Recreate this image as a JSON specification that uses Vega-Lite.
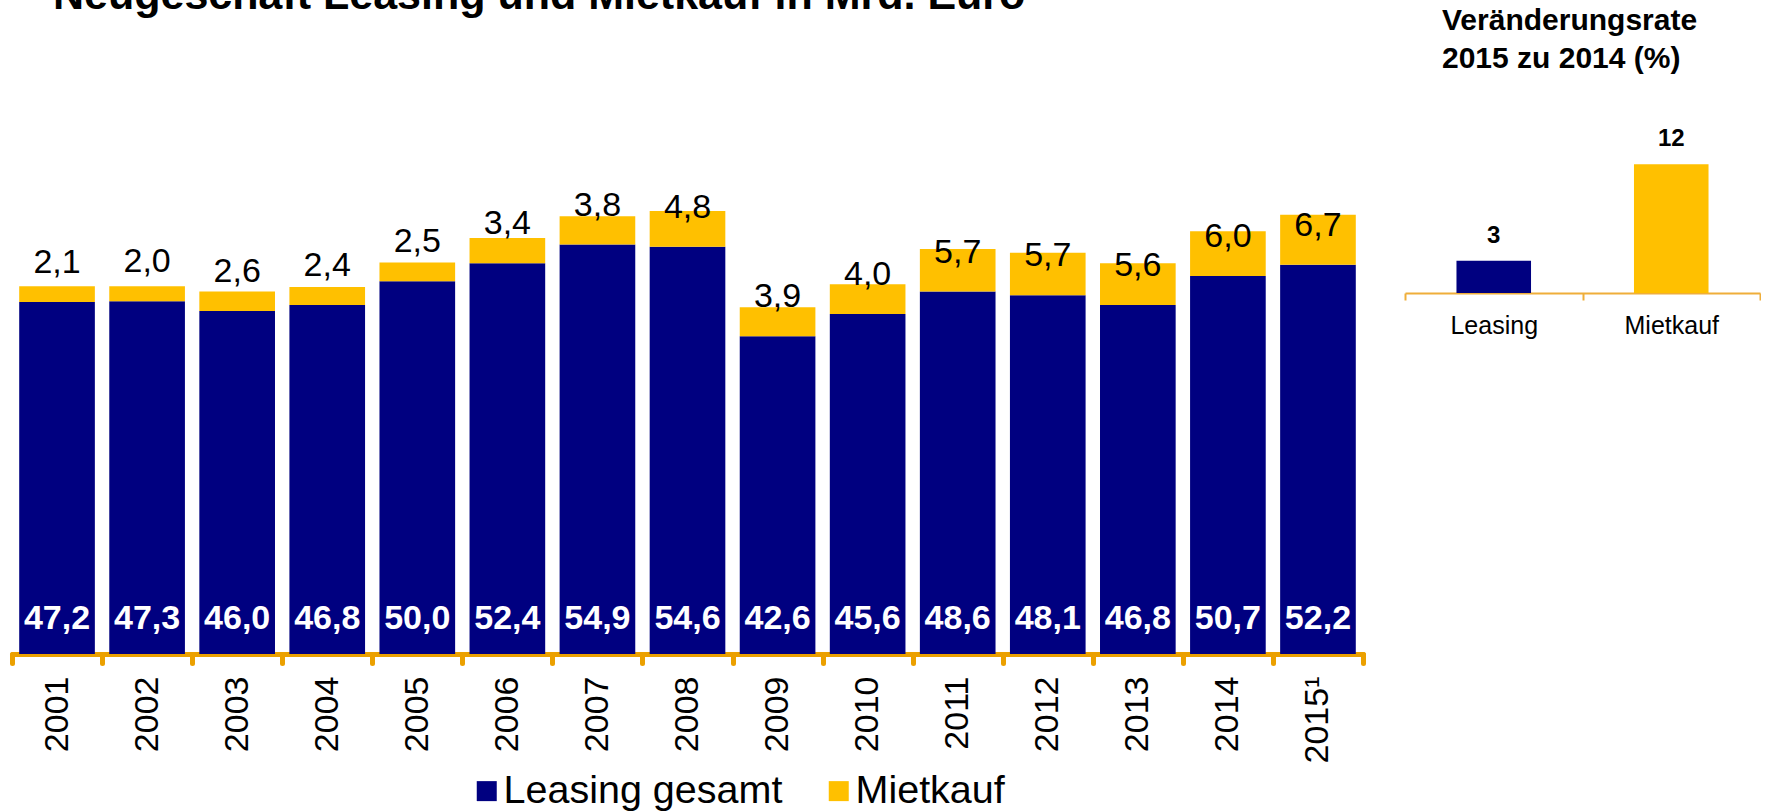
{
  "$schema": "https://vega.github.io/schema/vega-lite/v6.json",
  "padding": {"left": -5, "top": -25, "right": 0, "bottom": 0},
  "autosize": {"type": "pad"},
  "spacing": 42,
  "bounds": "flush",
  "config": {
    "view": {"stroke": null},
    "font": "Liberation Sans",
    "locale": {"number": {"decimal": ",", "thousands": ".", "grouping": [3], "currency": ["", " €"]}}
  },
  "datasets": {
    "neu": [
      {"Jahr": "2001", "Leasing gesamt": 47.2, "Mietkauf": 2.1},
      {"Jahr": "2002", "Leasing gesamt": 47.3, "Mietkauf": 2.0},
      {"Jahr": "2003", "Leasing gesamt": 46.0, "Mietkauf": 2.6},
      {"Jahr": "2004", "Leasing gesamt": 46.8, "Mietkauf": 2.4},
      {"Jahr": "2005", "Leasing gesamt": 50.0, "Mietkauf": 2.5},
      {"Jahr": "2006", "Leasing gesamt": 52.4, "Mietkauf": 3.4},
      {"Jahr": "2007", "Leasing gesamt": 54.9, "Mietkauf": 3.8},
      {"Jahr": "2008", "Leasing gesamt": 54.6, "Mietkauf": 4.8},
      {"Jahr": "2009", "Leasing gesamt": 42.6, "Mietkauf": 3.9},
      {"Jahr": "2010", "Leasing gesamt": 45.6, "Mietkauf": 4.0},
      {"Jahr": "2011", "Leasing gesamt": 48.6, "Mietkauf": 5.7},
      {"Jahr": "2012", "Leasing gesamt": 48.1, "Mietkauf": 5.7},
      {"Jahr": "2013", "Leasing gesamt": 46.8, "Mietkauf": 5.6},
      {"Jahr": "2014", "Leasing gesamt": 50.7, "Mietkauf": 6.0},
      {"Jahr": "2015", "Leasing gesamt": 52.2, "Mietkauf": 6.7}
    ],
    "rate": [
      {"Typ": "Leasing", "Wert": 3},
      {"Typ": "Mietkauf", "Wert": 12}
    ]
  },
  "resolve": {"scale": {"color": "independent"}},
  "hconcat": [
    {
      "width": 1351,
      "height": 522,
      "title": {"text": "Neugeschäft Leasing und Mietkauf in Mrd. Euro", "anchor": "start", "fontSize": 43, "fontWeight": "bold", "dx": 58, "offset": 80, "baseline": "alphabetic", "color": "black"},
      "data": {"name": "neu"},
      "encoding": {
        "x": {
          "field": "Jahr", "type": "nominal", "sort": null,
          "scale": {"paddingInner": 0, "paddingOuter": 0},
          "axis": {
            "title": null, "tickBand": "extent",
            "domainColor": "#EBA000", "domainWidth": 5, "domainCap": "round",
            "tickColor": "#EBA000", "tickWidth": 5, "tickCap": "round", "tickSize": 9,
            "labelAngle": -90, "labelFontSize": 34, "labelColor": "black", "labelPadding": 13,
            "labelExpr": "datum.value == '2015' ? '2015¹' : datum.value"
          }
        }
      },
      "layer": [
        {
          "transform": [{"fold": ["Leasing gesamt", "Mietkauf"], "as": ["Typ", "Wert"]}],
          "mark": {"type": "bar", "width": {"band": 0.84}},
          "encoding": {
            "y": {"field": "Wert", "type": "quantitative", "stack": "zero", "scale": {"domain": [0, 70], "nice": false}, "axis": null},
            "order": {"field": "Typ", "sort": "ascending"},
            "color": {
              "field": "Typ", "type": "nominal",
              "scale": {"domain": ["Leasing gesamt", "Mietkauf"], "range": ["#000080", "#FFC000"]},
              "legend": {
                "orient": "none", "legendX": 455, "legendY": 639, "direction": "horizontal", "title": null,
                "symbolType": "square", "symbolSize": 400, "symbolStrokeWidth": 0,
                "labelFontSize": 39.5, "labelColor": "black", "labelOffset": -3, "columnPadding": 36, "labelLimit": 0
              }
            }
          }
        },
        {
          "mark": {"type": "text", "color": "white", "fontWeight": "bold", "fontSize": 34, "baseline": "alphabetic", "dy": -25},
          "encoding": {
            "y": {"datum": 0, "type": "quantitative", "scale": {"domain": [0, 70], "nice": false}, "axis": null},
            "text": {"field": "Leasing gesamt", "type": "quantitative", "format": ".1f"}
          }
        },
        {
          "mark": {"type": "text", "color": "black", "fontSize": 34, "baseline": "middle", "dy": -39},
          "encoding": {
            "y": {"field": "Leasing gesamt", "type": "quantitative", "scale": {"domain": [0, 70], "nice": false}, "axis": null},
            "text": {"field": "Mietkauf", "type": "quantitative", "format": ".1f"}
          }
        }
      ]
    },
    {
      "width": 355,
      "height": 161,
      "title": {"text": ["Veränderungsrate", "2015 zu 2014 (%)"], "anchor": "start", "fontSize": 30, "fontWeight": "bold", "dx": 38, "offset": 29, "lineHeight": 38, "baseline": "alphabetic", "color": "black"},
      "data": {"name": "rate"},
      "encoding": {
        "x": {
          "field": "Typ", "type": "nominal", "sort": null,
          "scale": {"paddingInner": 0, "paddingOuter": 0},
          "axis": {
            "title": null, "tickBand": "extent",
            "domainColor": "#EFAE3A", "domainWidth": 2, "tickColor": "#EFAE3A", "tickWidth": 2, "tickSize": 7,
            "labelAngle": 0, "labelFontSize": 25, "labelColor": "black", "labelPadding": 13
          }
        }
      },
      "layer": [
        {
          "mark": {"type": "bar", "width": {"band": 0.42}},
          "encoding": {
            "y": {"field": "Wert", "type": "quantitative", "scale": {"domain": [0, 15], "nice": false}, "axis": null},
            "color": {"field": "Typ", "type": "nominal", "scale": {"domain": ["Leasing", "Mietkauf"], "range": ["#000080", "#FFC000"]}, "legend": null}
          }
        },
        {
          "mark": {"type": "text", "color": "black", "fontWeight": "bold", "fontSize": 24, "baseline": "alphabetic", "dy": -18},
          "encoding": {
            "y": {"field": "Wert", "type": "quantitative", "scale": {"domain": [0, 15], "nice": false}, "axis": null},
            "text": {"field": "Wert", "type": "quantitative"}
          }
        }
      ]
    }
  ]
}
